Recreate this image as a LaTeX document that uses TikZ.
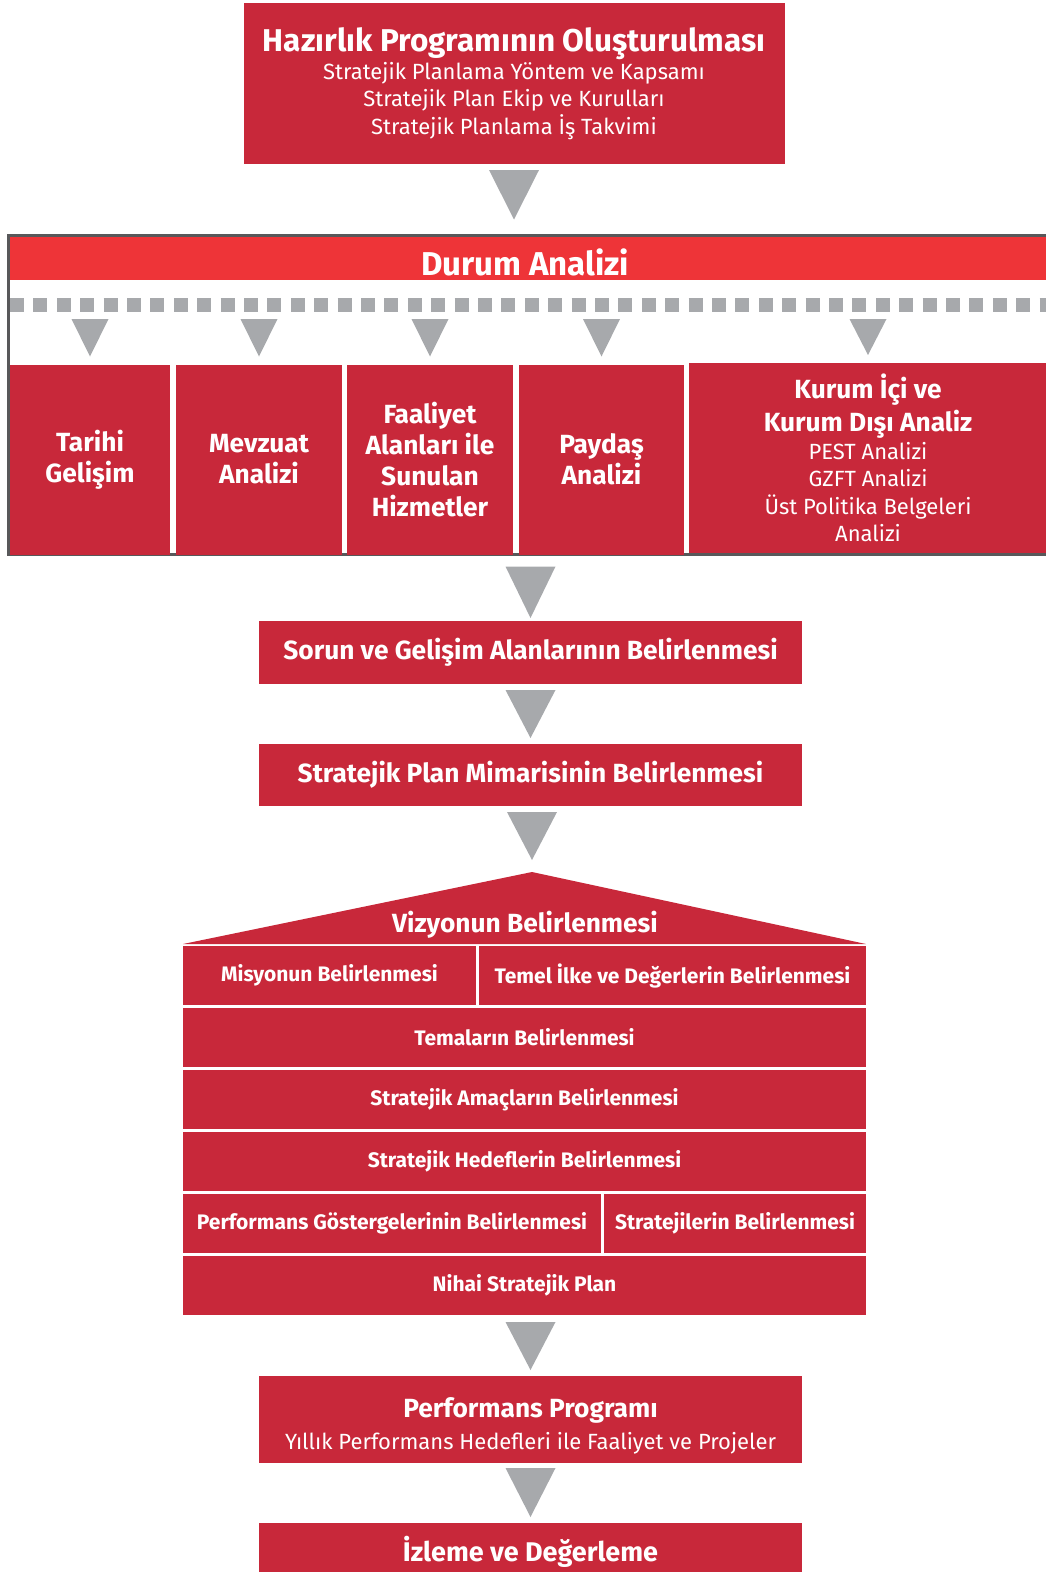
\documentclass[tikz,border=0pt]{standalone}
\usepackage{fontspec}
\setmainfont{Fira Sans}
\usetikzlibrary{calc}

\definecolor{boxred}{RGB}{200,40,58}
\definecolor{headred}{RGB}{238,52,56}
\definecolor{arrowgray}{RGB}{167,169,172}
\definecolor{framegray}{RGB}{88,88,90}

% grey step triangle between two boxes
\newcommand{\stepArrow}[4]{%
  \fill[arrowgray] ($(#1.south -| #2.north)+(-25,#3)$) -- ($(#1.south -| #2.north)+(25,#3)$)
    -- ($(#2.north)+(0,-#4)$) -- cycle;}

\begin{document}
\begin{tikzpicture}
        [x=1pt, y=-1pt,
         redbox/.style={fill=boxred, text=white, inner sep=0pt, outer sep=0pt, align=center},
         headfont/.style={font=\fontsize{33}{38}\selectfont\bfseries},
         boxfont/.style={font=\fontsize{26.3}{31}\selectfont\bfseries},
         rowfont/.style={font=\fontsize{21}{24}\selectfont\bfseries},
         subfont/.style={font=\fontsize{22}{27.5}\selectfont}]

        \useasboundingbox (0,0) rectangle (1046,1572);
        \clip (0,0) rectangle (1046,1572);

        \node[redbox, subfont, minimum width=541, minimum height=161] (hazirlik) at (514, 83.5)
        {{\fontsize{31.5}{34}\selectfont\bfseries Hazırlık Programının Oluşturulması}\\
         Stratejik Planlama Yöntem ve Kapsamı\\
         Stratejik Plan Ekip ve Kurulları\\
         Stratejik Planlama İş Takvimi};

        % Durum analizi
        \node[draw=framegray, line width=3pt, inner sep=0pt, outer sep=0pt, minimum width=1060,
              minimum height=319, anchor=north west] (durumbox) at (8.5, 235.5) {};
        \fill[headred] (10, 237) rectangle (1060, 280);
        \node[text=white, headfont] (durum) at (525, 262) {Durum Analizi};

        \coordinate (dashl) at (10, 305);
        \draw[arrowgray, line width=14pt, dash pattern=on 14pt off 9.4pt] (dashl) -- (1060, 305);

        \foreach \nm/\cx/\w/\txt in {tarihi/90/160/{Tarihi\\Gelişim},
                                     mevzuat/259/166/{Mevzuat\\Analizi},
                                     faaliyet/430/166/{Faaliyet\\Alanları ile\\Sunulan\\Hizmetler},
                                     paydas/601.5/165/{Paydaş\\Analizi}}
        \node[redbox, boxfont, minimum width=\w, minimum height=190] (\nm) at (\cx, 459.5) {\txt};

        \node[redbox, subfont, minimum width=358, minimum height=190] (kurum) at (868, 458)
        {{\fontsize{26.3}{31}\selectfont\bfseries Kurum İçi ve}\\[4pt]
         {\fontsize{26.3}{31}\selectfont\bfseries Kurum Dışı Analiz}\\
         PEST Analizi\\
         GZFT Analizi\\
         Üst Politika Belgeleri\\
         Analizi};

        \foreach \nm in {tarihi, mevzuat, faaliyet, paydas, kurum}
        \fill[arrowgray] ($(dashl -| \nm.north)+(-18.5,14)$) -- ($(dashl -| \nm.north)+(18.5,14)$)
            -- ($(\nm.north)+(0,-8)$) -- cycle;

        % steps
        \node[redbox, boxfont, minimum width=543, minimum height=63] (sorun) at (530.5, 652.5)
        {Sorun ve Gelişim Alanlarının Belirlenmesi};
        \node[redbox, boxfont, minimum width=543, minimum height=62] (mimari) at (530.5, 775)
        {Stratejik Plan Mimarisinin Belirlenmesi};

        % house
        \node[inner sep=0pt, outer sep=0pt, minimum size=0pt] (apex) at (532, 872) {};
        \fill[boxred] (183, 944) -- (apex.center) -- (866, 944) -- cycle;
        \node[text=white, boxfont] (vizyon) at (525, 925) {Vizyonun Belirlenmesi};

        \foreach \nm/\xa/\xb/\cy/\txt in {misyon/183/476/975.5/{Misyonun Belirlenmesi},
                                          temel/479/866/975.5/{Temel İlke ve Değerlerin Belirlenmesi},
                                          temalar/183/866/1037.5/{Temaların Belirlenmesi},
                                          amaclar/183/866/1099.5/{Stratejik Amaçların Belirlenmesi},
                                          hedefler/183/866/1161.5/{Stratejik Hedeflerin Belirlenmesi},
                                          gosterge/183/601/1223.5/{Performans Göstergelerinin Belirlenmesi},
                                          strateji/604/866/1223.5/{Stratejilerin Belirlenmesi},
                                          nihai/183/866/1285.5/{Nihai Stratejik Plan}}
        \node[redbox, rowfont, minimum width=\xb-\xa, minimum height=59] (\nm) at ({(\xa+\xb)/2}, \cy) {\txt};

        \node[redbox, minimum width=543, minimum height=87] (perf) at (530.5, 1419.5) {};
        \node[text=white, subfont, align=center] (perftext) at (530.5, 1426)
        {{\fontsize{26.3}{30}\selectfont\bfseries Performans Programı}\\[4pt]
         Yıllık Performans Hedefleri ile Faaliyet ve Projeler};
        \node[redbox, font=\fontsize{27}{30}\selectfont\bfseries, minimum width=543, minimum height=58] (izleme) at (530.5, 1552)
        {İzleme ve Değerleme};

        \fill[arrowgray] ($(hazirlik.south)+(-25,6)$) -- ($(hazirlik.south)+(25,6)$)
            -- ($(hazirlik.south |- durumbox.north)+(0,-16)$) -- cycle;
        \stepArrow{durumbox}{sorun}{12}{3}
        \stepArrow{sorun}{mimari}{6}{6}
        \stepArrow{mimari}{apex}{6}{12}
        \stepArrow{nihai}{perf}{7}{6}
        \stepArrow{perf}{izleme}{5}{6}

    \end{tikzpicture}
\end{document}
